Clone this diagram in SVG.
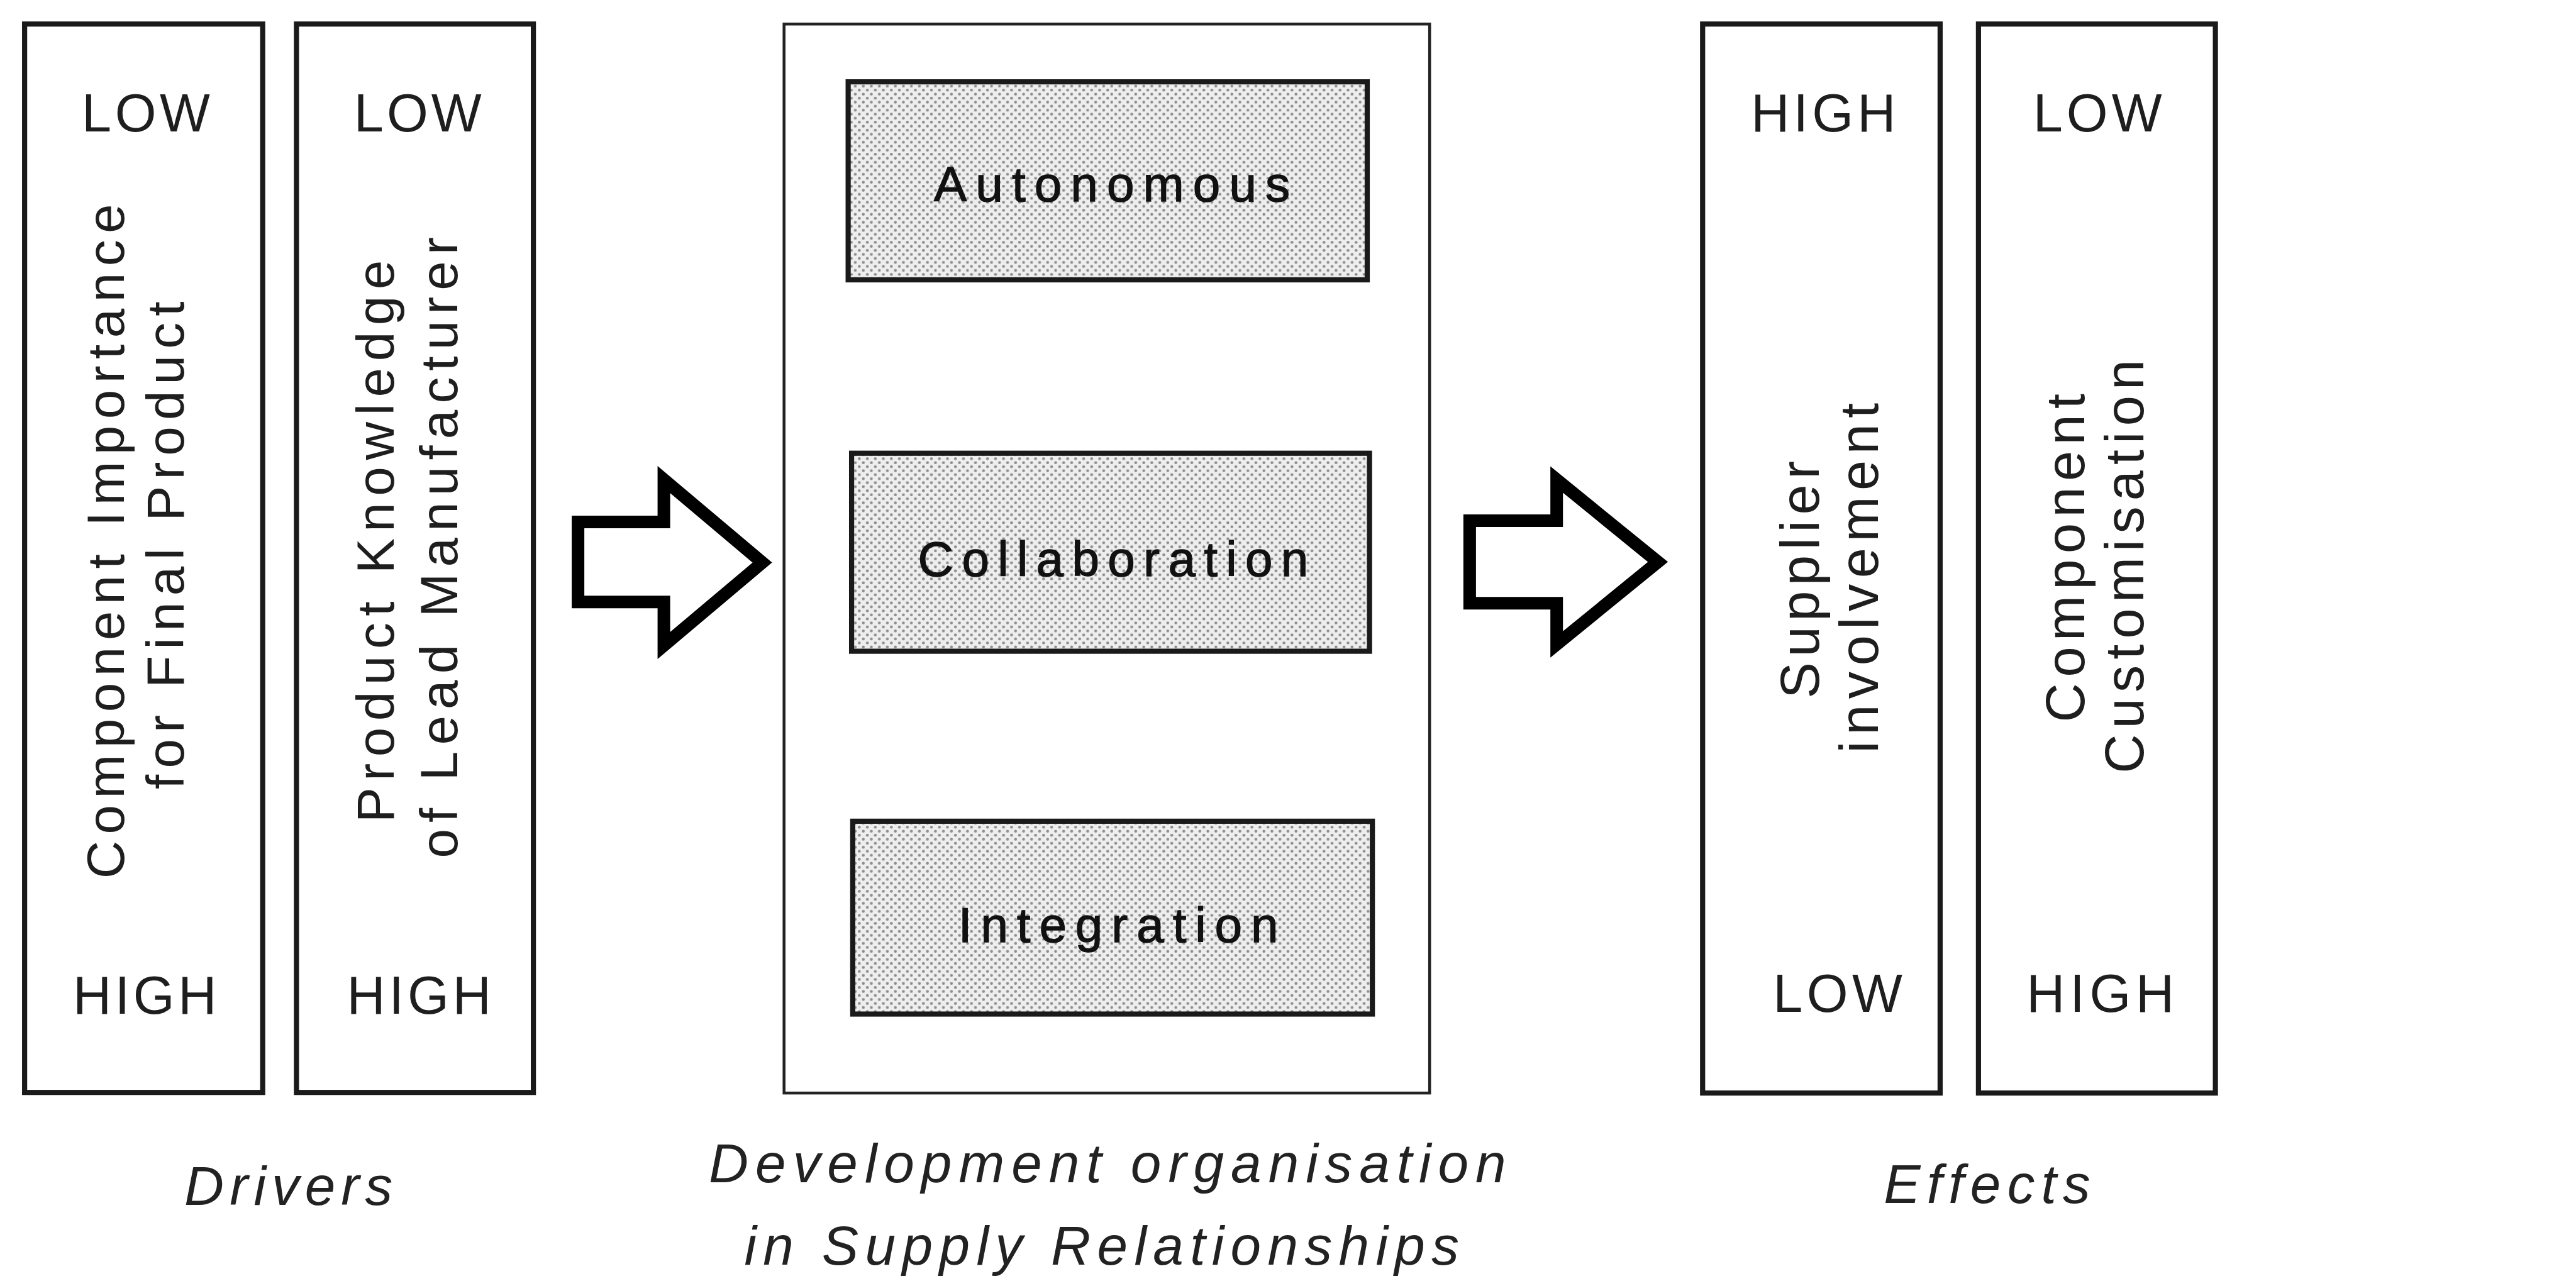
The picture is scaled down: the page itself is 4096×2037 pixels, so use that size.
<svg xmlns="http://www.w3.org/2000/svg" width="4096" height="2037" viewBox="0 0 4096 2037">
<defs>
<pattern id="dots" width="14" height="14" patternUnits="userSpaceOnUse">
<rect width="14" height="14" fill="#eeeeee"/>
<circle cx="3.5" cy="3.5" r="2.5" fill="#8c8c8c"/>
<circle cx="10.5" cy="10.5" r="2.5" fill="#8c8c8c"/>
</pattern>
<style>
.box{fill:#fff;stroke:#1a1a1a;stroke-width:9}
.frame{fill:#fff;stroke:#222;stroke-width:5}
.inner{fill:url(#dots);stroke:#1a1a1a;stroke-width:9}
.arrow{fill:#fff;stroke:#000;stroke-width:22;stroke-linejoin:miter;stroke-miterlimit:10}
.lbl{font-family:"Liberation Sans",Arial,sans-serif;font-size:93px;fill:#1e1e1e;text-anchor:middle}
.rot{font-family:"Liberation Sans",Arial,sans-serif;font-size:92px;fill:#1e1e1e;text-anchor:middle}
.rot2{font-family:"Liberation Sans",Arial,sans-serif;font-size:95px;fill:#1e1e1e;text-anchor:middle}
.mid{font-family:"Liberation Sans",Arial,sans-serif;font-size:86px;fill:#111;stroke:#111;stroke-width:1.5;text-anchor:middle}
.cap{font-family:"Liberation Sans",Arial,sans-serif;font-style:italic;font-size:96px;fill:#222;text-anchor:middle}
</style>
</defs>
<rect width="4096" height="2037" fill="#fff"/>
<g transform="scale(0.91)">
<g id="driver-component-importance">
<rect class="box" x="43" y="42" width="416" height="1867"/>
<text class="lbl" x="255" y="230" textLength="224" lengthAdjust="spacing">LOW</text>
<text class="rot" transform="translate(216,946) rotate(-90)" textLength="1179" lengthAdjust="spacing">Component Importance</text>
<text class="rot" transform="translate(321,953) rotate(-90)" textLength="852" lengthAdjust="spacing">for Final Product</text>
<text class="lbl" x="253" y="1771" textLength="251" lengthAdjust="spacing">HIGH</text>
</g>
<g id="driver-product-knowledge">
<rect class="box" x="518" y="42" width="414" height="1867"/>
<text class="lbl" x="730" y="230" textLength="223" lengthAdjust="spacing">LOW</text>
<text class="rot" transform="translate(688,946) rotate(-90)" textLength="983" lengthAdjust="spacing">Product Knowledge</text>
<text class="rot" transform="translate(799,957) rotate(-90)" textLength="1085" lengthAdjust="spacing">of Lead Manufacturer</text>
<text class="lbl" x="732" y="1771" textLength="252" lengthAdjust="spacing">HIGH</text>
</g>
<g id="development-organisation">
<rect class="frame" x="1370" y="42" width="1128" height="1868"/>
</g>
<g id="autonomous">
<rect class="inner" x="1482" y="143" width="907" height="346"/>
<text class="mid" x="1943" y="352" textLength="622" lengthAdjust="spacing">Autonomous</text>
</g>
<g id="collaboration">
<rect class="inner" x="1488" y="792" width="905" height="346"/>
<text class="mid" x="1945" y="1007" textLength="682" lengthAdjust="spacing">Collaboration</text>
</g>
<g id="integration">
<rect class="inner" x="1490" y="1435" width="908" height="337"/>
<text class="mid" x="1954" y="1646" textLength="559" lengthAdjust="spacing">Integration</text>
</g>
<g id="effect-supplier-involvement">
<rect class="box" x="2975" y="42" width="415" height="1868"/>
<text class="lbl" x="3186" y="230" textLength="253" lengthAdjust="spacing">HIGH</text>
<text class="rot2" transform="translate(3178,1013) rotate(-90)" textLength="415" lengthAdjust="spacing">Supplier</text>
<text class="rot2" transform="translate(3281,1010) rotate(-90)" textLength="612" lengthAdjust="spacing">involvement</text>
<text class="lbl" x="3211" y="1768" textLength="226" lengthAdjust="spacing">LOW</text>
</g>
<g id="effect-component-customisation">
<rect class="box" x="3457" y="42" width="414" height="1868"/>
<text class="lbl" x="3665" y="230" textLength="225" lengthAdjust="spacing">LOW</text>
<text class="rot2" transform="translate(3642,975) rotate(-90)" textLength="574" lengthAdjust="spacing">Component</text>
<text class="rot2" transform="translate(3745,990) rotate(-90)" textLength="723" lengthAdjust="spacing">Customisation</text>
<text class="lbl" x="3670" y="1768" textLength="258" lengthAdjust="spacing">HIGH</text>
</g>
<g id="connectors">
<polygon class="arrow" points="1010,912 1160,912 1160,838 1332,983 1160,1128 1160,1052 1010,1052"/>
<polygon class="arrow" points="2568,910 2720,910 2720,838 2897,982 2720,1126 2720,1054 2568,1054"/>
</g>
<g id="captions">
<text class="cap" x="504" y="2105" textLength="364" lengthAdjust="spacing">Drivers</text>
<text class="cap" x="1935" y="2066" textLength="1393" lengthAdjust="spacing">Development organisation</text>
<text class="cap" x="1925" y="2210" textLength="1249" lengthAdjust="spacing">in Supply Relationships</text>
<text class="cap" x="3472" y="2102" textLength="361" lengthAdjust="spacing">Effects</text>
</g>
</g>
</svg>
